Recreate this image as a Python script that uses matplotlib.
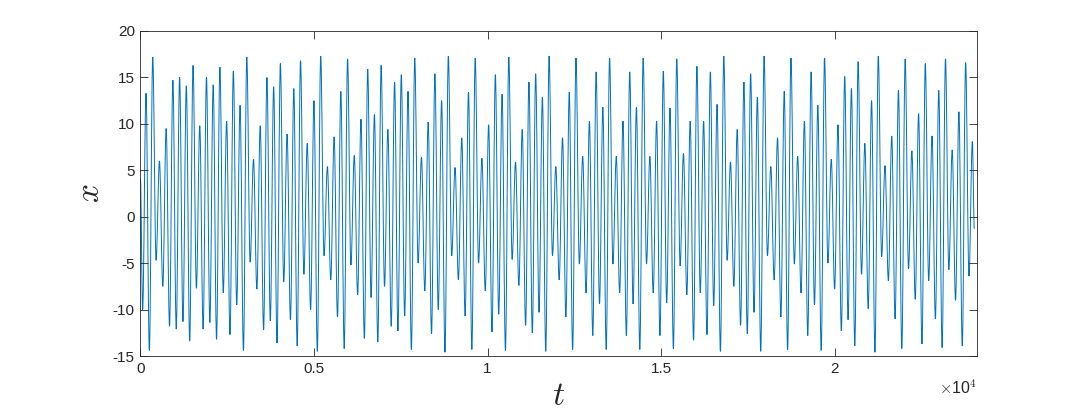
import numpy as np
import matplotlib
matplotlib.use("Agg")
from matplotlib import pyplot as plt
from matplotlib.path import Path
from matplotlib.patches import PathPatch
from matplotlib.ticker import FixedLocator, FixedFormatter


# Dados --------------------------------------------->>>>>

# valor inicial (t = 0) e valor final da serie
T_START, X_START = 0, 4.1
T_END, X_END = 24018, -1.3

# instantes do primeiro e do ultimo extremo (minimos e maximos alternados)
T_FIRST_EXT = 65
T_LAST_EXT = 23961

# extremos locais de x(t), na ordem em que aparecem
ext_1 = [-10.0, 13.3, -14.4, 17.2, -4.7, 6.0, -7.5, 9.5, -11.8, 14.7,
         -12.1, 15.0, -11.3, 14.1, -13.4, 16.3, -7.7, 9.8, -12.1, 15.0,
         -11.4, 14.2, -13.2, 16.1, -8.2, 10.3, -12.7, 15.7, -9.5, 12.0,
         -14.4, 17.2, -4.9, 6.2, -7.8, 9.8, -12.2, 15.0, -11.2, 14.0]
ext_2 = [-13.6, 16.5, -7.0, 8.9, -11.1, 13.8, -13.9, 16.8, -6.2, 7.9,
         -10.0, 12.5, -14.5, 17.3, -4.2, 5.4, -6.8, 8.6, -10.8, 13.5,
         -14.2, 17.0, -5.2, 6.6, -8.4, 10.5, -13.1, 15.9, -8.7, 11.0,
         -13.5, 16.3, -7.5, 9.4, -11.8, 14.5, -12.3, 15.3, -10.7, 13.5,
         -14.3, 17.1]
ext_3 = [-5.0, 6.4, -8.0, 10.2, -12.6, 15.4, -10.0, 12.5, -14.6, 17.3,
         -4.2, 5.3, -6.8, 8.5, -10.7, 13.4, -14.3, 17.1, -5.0, 6.3,
         -8.0, 9.9, -12.4, 15.3, -10.5, 13.2, -14.4, 17.2, -4.6, 5.9,
         -7.4, 9.4, -11.7, 14.5, -12.5, 15.4, -10.3, 12.9, -14.5, 17.3,
         -4.2]
ext_4 = [5.4, -6.8, 8.5, -10.8, 13.4, -14.3, 17.1, -5.1, 6.5, -8.2,
         10.3, -12.8, 15.6, -9.4, 11.8, -14.3, 17.1, -5.1, 6.5, -8.2,
         10.3, -12.8, 15.6, -9.4, 11.8, -14.3, 17.1, -5.1, 6.5, -8.2,
         10.3, -12.8, 15.7, -9.3, 11.7, -14.2, 17.0, -5.3, 6.8, -8.4,
         10.3]
ext_5 = [-13.3, 16.2, -8.2, 10.3, -12.7, 15.6, -9.6, 12.1, -14.5, 17.3,
         -4.7, 5.9, -7.5, 9.4, -11.7, 14.5, -12.6, 15.4, -10.3, 12.9,
         -14.5, 17.3, -4.2, 5.4, -6.8, 8.5, -10.8, 13.5, -14.3, 17.1,
         -5.1, 6.5, -8.2, 10.3, -12.8, 15.6, -9.5, 12.0, -14.4, 17.1,
         -5.0, 6.2]
ext_6 = [-7.8, 9.9, -12.3, 15.1, -11.1, 13.8, -13.9, 16.7, -6.2, 7.9,
         -9.9, 12.5, -14.6, 17.3, -4.3, 5.5, -6.9, 8.7, -11.0, 13.6,
         -14.2, 17.0, -5.6, 7.1, -8.9, 11.1, -13.7, 16.5, -6.9, 8.7,
         -11.0, 13.6, -14.1, 17.0, -5.7, 7.2, -9.0, 11.3, -13.9, 16.6,
         -6.4, 8.1]

x_ticks = [0, 5000, 10000, 15000, 20000]
x_tick_labels = ['0', '0.5', '1', '1.5', '2']
y_ticks = [-15, -10, -5, 0, 5, 10, 15, 20]
y_tick_labels = ['-15', '-10', '-5', '0', '5', '10', '15', '20']

# Montagem da serie ----------------------------->>>>>
x_ext = np.array(ext_1 + ext_2 + ext_3 + ext_4 + ext_5 + ext_6)
t_ext = np.linspace(T_FIRST_EXT, T_LAST_EXT, len(x_ext))

t = np.concatenate([[T_START], t_ext, [T_END]])
x = np.concatenate([[X_START], x_ext, [X_END]])

# curva suave: bezier cubica entre extremos, tangente horizontal nos extremos
k = 0.36
verts = [(t[0], x[0])]
codes = [Path.MOVETO]
for i in range(len(t) - 1):
    h = t[i + 1] - t[i]
    verts += [(t[i] + k * h, x[i]), (t[i + 1] - k * h, x[i + 1]), (t[i + 1], x[i + 1])]
    codes += [Path.CURVE4] * 3
curva = Path(verts, codes)

# Figura ----------------------------->>>>>
plt.rcParams['font.family'] = 'Liberation Sans'
plt.rcParams['mathtext.fontset'] = 'cm'

cor_eixo = '#262626'

fig = plt.figure(figsize=(10.8, 4.18), dpi=100)
ax = fig.add_axes([140.4 / 1080, 62 / 418, 836.6 / 1080, 325 / 418])

ax.add_patch(PathPatch(curva, facecolor='none', edgecolor='#0072BD', linewidth=0.7))

ax.set_xlim(0, 24095)
ax.set_ylim(-15, 20)

ax.xaxis.set_major_locator(FixedLocator(x_ticks))
ax.xaxis.set_major_formatter(FixedFormatter(x_tick_labels))
ax.yaxis.set_major_locator(FixedLocator(y_ticks))
ax.yaxis.set_major_formatter(FixedFormatter(y_tick_labels))

ax.tick_params(direction='in', length=6, width=0.6, colors=cor_eixo,
               labelsize=11, top=True, right=True, pad=4)
for lado in ax.spines.values():
    lado.set_color(cor_eixo)
    lado.set_linewidth(0.6)

ax.set_xlabel('$t$', fontsize=24, color=cor_eixo, labelpad=4)
ax.set_ylabel('$x$', fontsize=24, color=cor_eixo, labelpad=5)

# fator de escala do eixo t
ax.text(1.0, -0.07, r'$\times$10$^4$', transform=ax.transAxes,
        ha='right', va='top', fontsize=11.5, color=cor_eixo)

fig.savefig('out.png', dpi=100, facecolor='white')
